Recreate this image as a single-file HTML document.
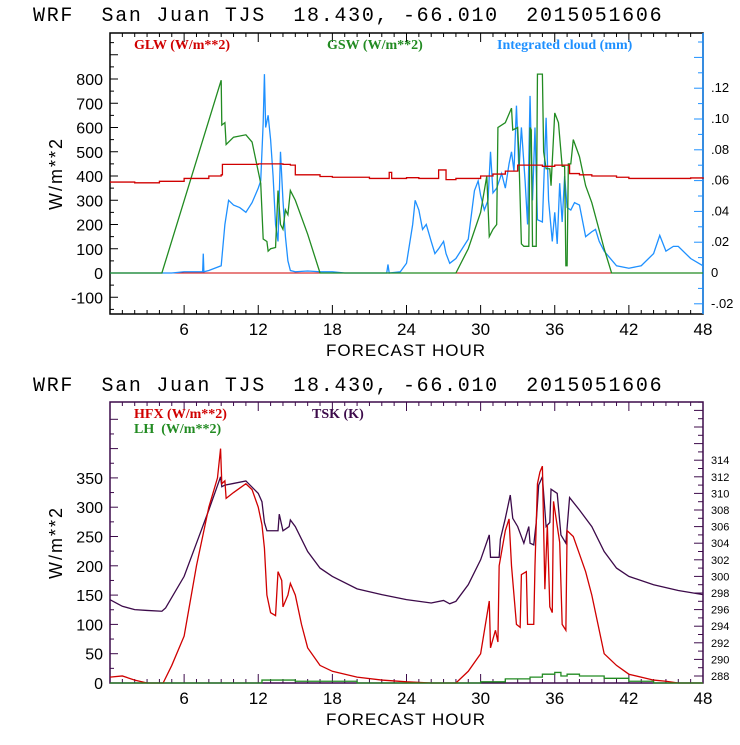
<!DOCTYPE html>
<html><head><meta charset="utf-8"><style>
html,body{margin:0;padding:0;background:#fff;}
</style></head><body>
<svg id="c" width="740" height="740" xmlns="http://www.w3.org/2000/svg" font-family="Liberation Sans, sans-serif"></svg>
<script>
// ---- top chart data ----
const glwHours=[0,2,4,6,8,9,9.1,12,14,14.6,15,17,18,21,22.5,22.6,22.8,24,25,26.5,26.6,27,27.2,28,30,31,32,33,35,36,37,37.2,38,39,41,42,45,47,48];
const glwVals=[375,372,378,390,400,405,448,450,448,445,405,398,395,390,390,415,390,393,390,390,425,425,385,390,400,408,420,445,440,445,445,410,405,400,395,390,390,392,388];
const gswHours=[0,4.2,9,9.05,9.3,9.4,10,11,11.5,12.2,12.4,12.7,12.8,13,13.4,13.6,13.8,14,14.2,14.4,14.6,15,16,17,28,29,30,30.5,30.7,31,31.3,31.4,32,32.5,32.6,33,33.1,33.3,33.5,33.9,34,34.1,34.2,34.5,34.6,35,35.1,35.3,35.6,35.7,36,36.3,36.6,36.8,36.9,37,37.1,37.3,37.5,38,38.5,39,40,40.6,48];
const gswVals=[0,0,795,610,620,530,560,570,540,370,140,130,90,100,105,340,200,180,260,240,340,300,160,0,0,100,250,400,150,180,200,600,620,680,590,600,480,120,110,110,600,590,110,110,820,820,500,430,430,360,660,620,440,440,30,30,450,450,550,480,360,290,100,0,0];
const cldHours=[0,5,6,7.5,7.55,7.6,8,9,9.3,9.6,10,10.5,11,11.5,12,12.2,12.4,12.5,12.6,12.8,13,13.2,13.4,13.6,13.8,14,14.2,14.4,14.6,15,16,17,18,19,22.4,22.5,22.6,23.5,24,24.5,24.7,25,25.3,25.6,26,26.3,26.6,27,27.2,27.5,28,29,29.5,29.8,30,30.3,30.6,30.8,31,31.3,31.7,32,32.3,32.5,32.7,32.9,33.1,33.3,33.6,33.8,34,34.2,34.4,34.6,35,35.3,35.5,35.8,36,36.2,36.4,36.6,36.8,37,37.3,37.6,38,38.5,39,39.3,39.6,40,41,42,43,44,44.5,45,45.6,46,47,48];
const cldVals=[0,0,.0008,.0008,.0126,.0008,.0016,.0047,.0315,.0472,.0441,.0425,.0394,.0457,.0551,.0598,.0976,.1291,.0945,.1024,.0866,.063,.0315,.0205,.0787,.0472,.0236,.0079,.0016,.0008,.0013,.0008,.0008,0,0,.0055,0,.0008,.0063,.0315,.0472,.0409,.0283,.0315,.0205,.0126,.0157,.0205,.0126,.0063,.0094,.022,.0535,.0598,.0504,.0409,.0472,.0787,.052,.0551,.0646,.0551,.0709,.0787,.0661,.1087,.0661,.0945,.0598,.0315,.115,.0472,.0945,.0346,.0331,.1008,.0472,.0205,.0394,.0189,.0583,.0331,.063,.0425,.0409,.0457,.0441,.0236,.0268,.0283,.0205,.0142,.0047,.0031,.0047,.0126,.0244,.0142,.0173,.0173,.0094,.0047];
// ---- bottom chart data ----
const hfxHours=[0,1,2,3,4.3,5,6,7,8,8.7,8.95,9.05,9.3,9.4,10,11,11.5,12,12.3,12.5,12.7,13,13.4,13.6,13.9,14,14.4,14.6,15,15.5,16,17,18,20,22,24,26,28,29,30,30.7,30.8,31.2,31.4,31.5,32,32.3,32.5,32.9,33.2,33.3,33.7,33.8,34.3,34.4,34.6,34.8,35,35.2,35.4,35.6,35.8,35.9,36.4,36.6,36.9,37,37.5,38,38.5,39,39.5,40,41,42,44,45,46,48];
const hfxVals=[10,12,5,0,0,30,80,200,300,350,400,340,345,315,325,340,330,300,270,230,150,120,115,190,175,130,150,170,150,100,60,30,20,10,5,2,0,0,20,50,140,60,90,70,200,260,280,200,100,95,185,190,100,100,200,340,360,370,160,270,130,120,310,240,100,90,260,250,220,190,150,100,50,30,15,5,3,0,0];
const lhHours=[0,12,12.3,14,15,20,29,30,32,34,35,36,36.5,37,38,40,42,44,48];
const lhVals=[0,0,5,5,3,0,0,2,7,10,15,18,12,15,12,8,3,0,0];
const tskHours=[0,1,2,3,4.2,4.5,6,7,8,8.95,9.05,9.3,10,11,12,12.3,12.5,12.7,13,13.6,13.7,14,14.5,14.6,15,16,17,18,20,22,23,24,26,27,27.5,28,29,30,30.7,30.8,31.5,31.6,32,32.4,32.6,33,33.5,33.9,34,34.3,34.5,34.7,35,35.3,35.6,35.7,36.2,36.5,36.9,37.2,38,39,40,41,42,44,46,48];
const tskVals=[297.2,296.4,296,295.9,295.8,296.2,300,304,308,312,310.8,311,311.2,311.5,310,309,306.5,305.5,305.5,305.5,307.5,305.5,306,306.8,306,303,301,300,298.5,297.8,297.5,297.2,296.8,297.1,296.7,297,299,302,305,302.3,302.3,304.5,307,309.8,307,306,304,306,304,303.8,306.5,311,312,306,306.5,310.5,310,305,304,309.5,308,306,303,301,300,299,298.3,297.8];
const leftTicksTop=[-100,0,100,200,300,400,500,600,700,800];
const rightTicksTop=[-0.02,0,0.02,0.04,0.06,0.08,0.10,0.12];
const leftTicksBot=[0,50,100,150,200,250,300,350];
const rightTicksBot=[288,290,292,294,296,298,300,302,304,306,308,310,312,314];
const xTicks=[6,12,18,24,30,36,42,48];

const svg=document.getElementById('c');
const NS='http://www.w3.org/2000/svg';
function el(t,a,p){const e=document.createElementNS(NS,t);for(const k in a)e.setAttribute(k,a[k]);(p||svg).appendChild(e);return e;}
const X0=110,X1=703;
const xs=h=>X0+(X1-X0)*h/48;

function fmtR(v){if(v===0)return '0';let s=Math.abs(v).toFixed(2).replace(/^0/,'');return (v<0?'-':'')+s;}

function panel(o){
  const g=el('g',{});
  const t=el('text',{x:33,y:o.titleY,'font-size':20,'font-family':'Liberation Mono, monospace','letter-spacing':'1.7'},g);
  t.textContent='WRF\u00a0\u00a0San Juan TJS\u00a0\u00a018.430, -66.010\u00a0\u00a02015051606';
  
  el('rect',{x:X0,y:o.top,width:X1-X0,height:o.bot-o.top,fill:'none',stroke:o.frame,'stroke-width':1.5},g);
  if(o.rightCol) el('line',{x1:X1,y1:o.top,x2:X1,y2:o.bot,stroke:o.rightCol,'stroke-width':1.5},g);
  for(let h=1;h<48;h++){const x=xs(h);const L=h%6===0?9:4;
    el('line',{x1:x,y1:o.bot,x2:x,y2:o.bot-L,stroke:o.frame},g);el('line',{x1:x,y1:o.top,x2:x,y2:o.top+L,stroke:o.frame},g);}
  xTicks.forEach(h=>{const tx=el('text',{x:xs(h),y:o.bot+21,'font-size':17,'text-anchor':'middle'},g);tx.textContent=h;
    });
  const xt=el('text',{x:406,y:o.bot+42,'font-size':17,'text-anchor':'middle','letter-spacing':'1'},g);xt.textContent='FORECAST HOUR';
  
  const yt=el('text',{x:0,y:0,'font-size':18,'text-anchor':'middle',transform:`translate(${o.ytX},${(o.top+o.bot)/2}) rotate(-90)`,'letter-spacing':'2'},g);yt.textContent='W/m**2';
  
  for(let v=o.lMinTick;v<=o.lMaxTick;v+=o.lMinor){const y=o.yl(v);if(y<o.top||y>o.bot)continue;const L=(Math.round(v/o.lMinor)%2===0)?8:4;
    el('line',{x1:X0,y1:y,x2:X0+L,y2:y,stroke:o.frame},g);}
  o.lTicks.forEach(v=>{const tx=el('text',{x:X0-7,y:o.yl(v)+6,'font-size':16,'text-anchor':'end'},g);tx.textContent=v;
    });
  const rc=o.rightCol||o.frame;
  for(let i=0;;i++){const v=o.rMinTick+i*o.rMinor;if(v>o.rMaxTick+1e-9)break;const y=o.yr(v);if(y<o.top||y>o.bot)continue;
    const L=(i%2===o.rMajorParity)?9:5;el('line',{x1:X1,y1:y,x2:X1-L,y2:y,stroke:rc},g);}
  o.rTicks.forEach(v=>{const tx=el('text',{x:X1+8,y:o.yr(v)+4,'font-size':o.rFont,'text-anchor':'start'},g);tx.textContent=o.rFmt(v);
    });
  return g;
}
function series(g,hours,vals,yf,col,name,step){
  let d='';hours.forEach((h,i)=>{const x=xs(h),y=yf(vals[i]);
    if(i===0)d+='M'+x+','+y;else{ if(step){d+='H'+x+'V'+y;} else d+='L'+x+','+y;}});
  const p=el('path',{d:d,fill:'none',stroke:col,'stroke-width':1.3},g);
  
}
function legend(g,x,y,txt,col,name){const t=el('text',{x:x,y:y,'font-size':14,fill:col,'font-family':'Liberation Serif, serif','font-weight':'bold'},g);t.textContent=txt;
  }

const T={top:33,bot:314};
const ylT=v=>273-v*0.2425, yrT=v=>273-v*1540;
const gT=panel({name:'top-panel',titleY:21,top:T.top,bot:T.bot,frame:'#000',rightCol:'#1e90ff',ytX:62,
  yl:ylT,yr:yrT,lMinTick:-150,lMaxTick:1000,lMinor:50,lTicks:leftTicksTop,
  rMinTick:-0.03,rMaxTick:0.15,rMinor:0.01,rMajorParity:1,rTicks:rightTicksTop,rFont:13,rFmt:fmtR});
const zl=el('line',{x1:X0,y1:ylT(0),x2:X1,y2:ylT(0),stroke:'#d00000','stroke-width':1},gT);


series(gT,cldHours,cldVals,yrT,'#1e90ff','integrated-cloud-line',false);
series(gT,gswHours,gswVals,ylT,'#228b22','gsw-line',false);
series(gT,glwHours,glwVals,ylT,'#d00000','glw-line',true);
legend(gT,134,49,'GLW (W/m**2)','#d00000','legend-glw');
legend(gT,327,49,'GSW (W/m**2)','#228b22','legend-gsw');
legend(gT,497,49,'Integrated cloud (mm)','#1e90ff','legend-integrated-cloud');

const B={top:402,bot:683};
const ylB=v=>683-v*0.586, yrB=v=>676-(v-288)*8.3;
const gB=panel({name:'bottom-panel',titleY:391,top:B.top,bot:B.bot,frame:'#3c0a4a',rightCol:null,ytX:62,
  yl:ylB,yr:yrB,lMinTick:0,lMaxTick:450,lMinor:25,lTicks:leftTicksBot,
  rMinTick:287,rMaxTick:322,rMinor:1,rMajorParity:1,rTicks:rightTicksBot,rFont:11,rFmt:v=>v});
series(gB,tskHours,tskVals,yrB,'#3c0a4a','tsk-line',false);
series(gB,hfxHours,hfxVals,ylB,'#d00000','hfx-line',false);
series(gB,lhHours,lhVals,ylB,'#228b22','lh-line',true);
legend(gB,134,418,'HFX (W/m**2)','#d00000','legend-hfx');
legend(gB,134,433,'LH\u00a0\u00a0(W/m**2)','#228b22','legend-lh');
legend(gB,312,418,'TSK (K)','#3c0a4a','legend-tsk');
</script>
</body></html>
